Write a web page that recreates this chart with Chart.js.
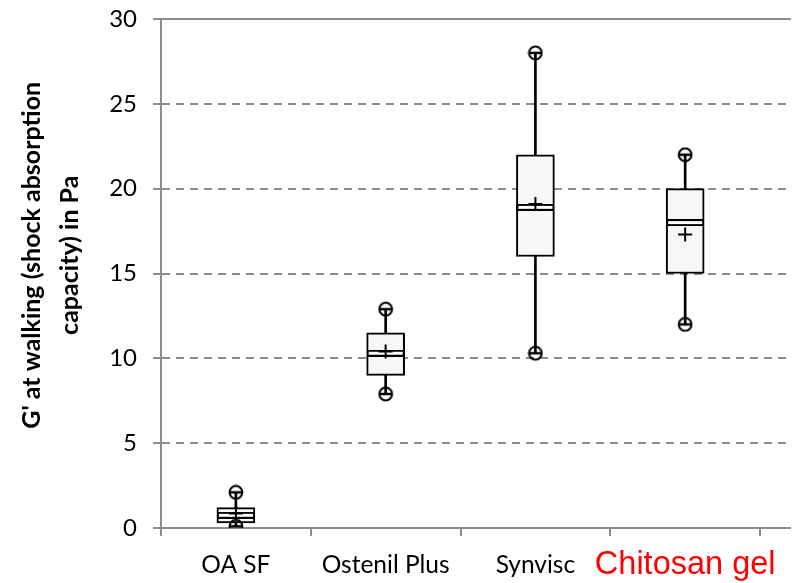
<!DOCTYPE html>
<html><head><meta charset="utf-8">
<script src="https://cdn.jsdelivr.net/npm/chart.js@4.4.1/dist/chart.umd.min.js"></script>
<style>html,body{margin:0;padding:0;background:#fff;} #wrap{width:792px;height:583px;position:relative;}</style>
</head><body><div id="wrap"><canvas id="c"></canvas></div>
<script>
const categories = ['OA SF', 'Ostenil Plus', 'Synvisc', 'Chitosan gel'];
const minValues = [0.1, 7.9, 10.3, 12.0];
const q1Values = [0.3, 9.0, 16.0, 15.0];
const medianValues = [0.75, 10.3, 18.9, 18.0];
const q3Values = [1.2, 11.5, 22.0, 20.0];
const maxValues = [2.1, 12.9, 28.0, 22.0];
const meanValues = [0.85, 10.4, 19.1, 17.3];
const yTicks = [0, 5, 10, 15, 20, 25, 30];
const yTitle = ["G' at walking (shock absorption", "capacity) in Pa"];

const GRID = '#8c8c8c';
const TITLE_SHIFT = '      ';
const X_MAX = 4.2;
const pos = i => i + 0.5;
const pts = arr => arr.map((v, i) => ({x: pos(i), y: v}));

function mkCanvas(w, h, draw) {
  const c = document.createElement('canvas');
  c.width = w; c.height = h;
  draw(c.getContext('2d'));
  return c;
}
const extremeMarker = mkCanvas(16, 16, g => {
  g.strokeStyle = '#000'; g.lineWidth = 2;
  g.beginPath(); g.arc(8, 8, 6.4, 0, Math.PI * 2); g.stroke();
  g.lineWidth = 2.5; g.beginPath(); g.moveTo(1.5, 8); g.lineTo(14.5, 8); g.stroke();
});
const medianMarker = mkCanvas(38, 7, g => {
  g.fillStyle = '#fff'; g.fillRect(0, 0, 38, 7);
  g.strokeStyle = '#000'; g.lineWidth = 2; g.strokeRect(1, 1, 36, 5);
});

new Chart(document.getElementById('c'), {
  type: 'bar',
  data: {
    datasets: [
      {type: 'bar', label: 'whisker', data: categories.map((c, i) => ({x: pos(i), y: [minValues[i], maxValues[i]]})),
        backgroundColor: '#000', borderWidth: 0, barThickness: 2, grouped: false, order: 5},
      {type: 'bar', label: 'box', data: categories.map((c, i) => ({x: pos(i), y: [q1Values[i], q3Values[i]]})),
        backgroundColor: '#f7f7f7', borderColor: '#000', borderWidth: 2, borderSkipped: false, barThickness: 38, grouped: false, order: 4},
      {type: 'scatter', label: 'min', data: pts(minValues), pointStyle: extremeMarker, pointRadius: 7, order: 3},
      {type: 'scatter', label: 'max', data: pts(maxValues), pointStyle: extremeMarker, pointRadius: 7, order: 3},
      {type: 'scatter', label: 'median', data: pts(medianValues), pointStyle: medianMarker, pointRadius: 7, order: 2},
      {type: 'scatter', label: 'mean', data: pts(meanValues), pointStyle: 'cross', pointRadius: 7, borderColor: '#000', borderWidth: 2, order: 1}
    ]
  },
  options: {
    responsive: true, maintainAspectRatio: false, animation: false,
    layout: {autoPadding: false, padding: {top: 19, right: 2, left: 0, bottom: 0}},
    plugins: {legend: {display: false}, tooltip: {enabled: false}},
    scales: {
      x: {
        type: 'linear', min: 0, max: X_MAX, offset: false,
        afterBuildTicks: s => { s.ticks = [0, 0.5, 1, 1.5, 2, 2.5, 3, 3.5, 4].map(v => ({value: v})); },
        grid: {drawOnChartArea: false, offset: false, drawTicks: true, tickLength: 8, lineWidth: 2,
          color: ctx => (ctx.tick && ctx.tick.value % 1 === 0) ? GRID : 'rgba(0,0,0,0)'},
        border: {display: true, color: GRID, width: 2},
        ticks: {
          autoSkip: false, maxRotation: 0, minRotation: 0, padding: 14,
          callback: v => (v % 1 === 0.5 ? categories[Math.floor(v)] : ''),
          color: ctx => (ctx.tick && ctx.tick.value === 3.5) ? '#ff0000' : '#000',
          font: ctx => (ctx.tick && ctx.tick.value === 3.5)
            ? {family: 'Liberation Sans', size: 32.5, lineHeight: 0.9}
            : {family: 'Lato', size: 24.5, lineHeight: 1.2}
        },
        afterFit: s => { s.height = 55; s.paddingLeft = 0; s.paddingRight = 0; }
      },
      x2: {
        type: 'linear', position: 'top', min: 0, max: X_MAX,
        grid: {display: false, drawTicks: false}, ticks: {display: false},
        border: {display: true, color: GRID, width: 2},
        afterFit: s => { s.height = 0; s.paddingLeft = 0; s.paddingRight = 0; }
      },
      y: {
        type: 'linear', min: 0, max: 30,
        afterBuildTicks: s => { s.ticks = yTicks.map(v => ({value: v})); },
        grid: {color: GRID, lineWidth: 2, tickLength: 8, drawTicks: true, tickBorderDash: []},
        border: {display: true, color: GRID, width: 2, dash: [8, 6]},
        ticks: {padding: 16, color: '#000', font: {family: 'Lato', size: 24}},
        title: {display: true, text: yTitle.map(t => TITLE_SHIFT + t), color: '#000',
          font: {family: 'Lato', size: 25, weight: 'bold', lineHeight: 1.52}, padding: {top: 13, bottom: 0}},
        afterFit: s => { s.width = 161; s.paddingTop = 0; s.paddingBottom = 0; }
      }
    }
  }
});
</script></body></html>
